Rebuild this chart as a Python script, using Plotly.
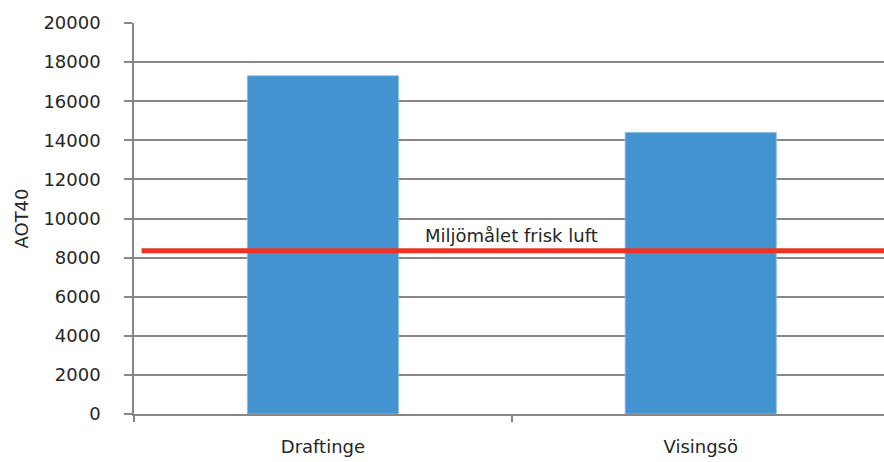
import plotly.graph_objects as go

# AOT40 per station and the environmental objective level
stations = ["Draftinge", "Visingsö"]
aot40 = [17300, 14400]
objective_value = 8350
objective_label = "Miljömålet frisk luft"
y_ticks = [0, 2000, 4000, 6000, 8000, 10000, 12000, 14000, 16000, 18000, 20000]

FONT = "DejaVu Sans"
GREY = "#878787"

fig = go.Figure()
fig.add_trace(go.Bar(
    x=stations,
    y=aot40,
    width=0.4,
    marker=dict(color="#4394D0", line=dict(color="#8DBDE6", width=0.8)),
    showlegend=False,
))

# Objective level drawn across the plot
fig.add_shape(
    type="line", xref="x", yref="y",
    x0=-0.48, x1=1.6, y0=objective_value, y1=objective_value,
    line=dict(color="#EE3224", width=5),
    layer="above",
)
fig.add_annotation(
    x=0.5, y=objective_value, xref="x", yref="y",
    text=objective_label, showarrow=False,
    yshift=15, font=dict(family=FONT, size=18, color="#262626"),
)

fig.update_layout(
    width=884, height=462,
    margin=dict(l=134, r=0, t=23, b=48),
    plot_bgcolor="white", paper_bgcolor="white",
    font=dict(family=FONT, size=18, color="#262626"),
    bargap=0.6,
)
fig.update_xaxes(
    type="category",
    range=[-0.5, 1.485],
    tickson="boundaries",
    ticks="outside", ticklen=6, tickcolor=GREY, tickwidth=1.5,
    showline=True, linecolor=GREY, linewidth=1.5,
    showgrid=False,
    tickfont=dict(size=18),
    ticklabelstandoff=16,
)
fig.update_yaxes(
    range=[0, 20000],
    tickvals=y_ticks,
    ticktext=[str(v) for v in y_ticks],
    ticks="outside", ticklen=8, tickcolor=GREY, tickwidth=1.5,
    showline=True, linecolor=GREY, linewidth=1.5,
    showgrid=True, gridcolor=GREY, gridwidth=1.5,
    zeroline=False,
    title=dict(text="AOT40", font=dict(size=18), standoff=10),
    tickfont=dict(size=18),
    ticklabelstandoff=20,
)

fig.write_html("out.html")
